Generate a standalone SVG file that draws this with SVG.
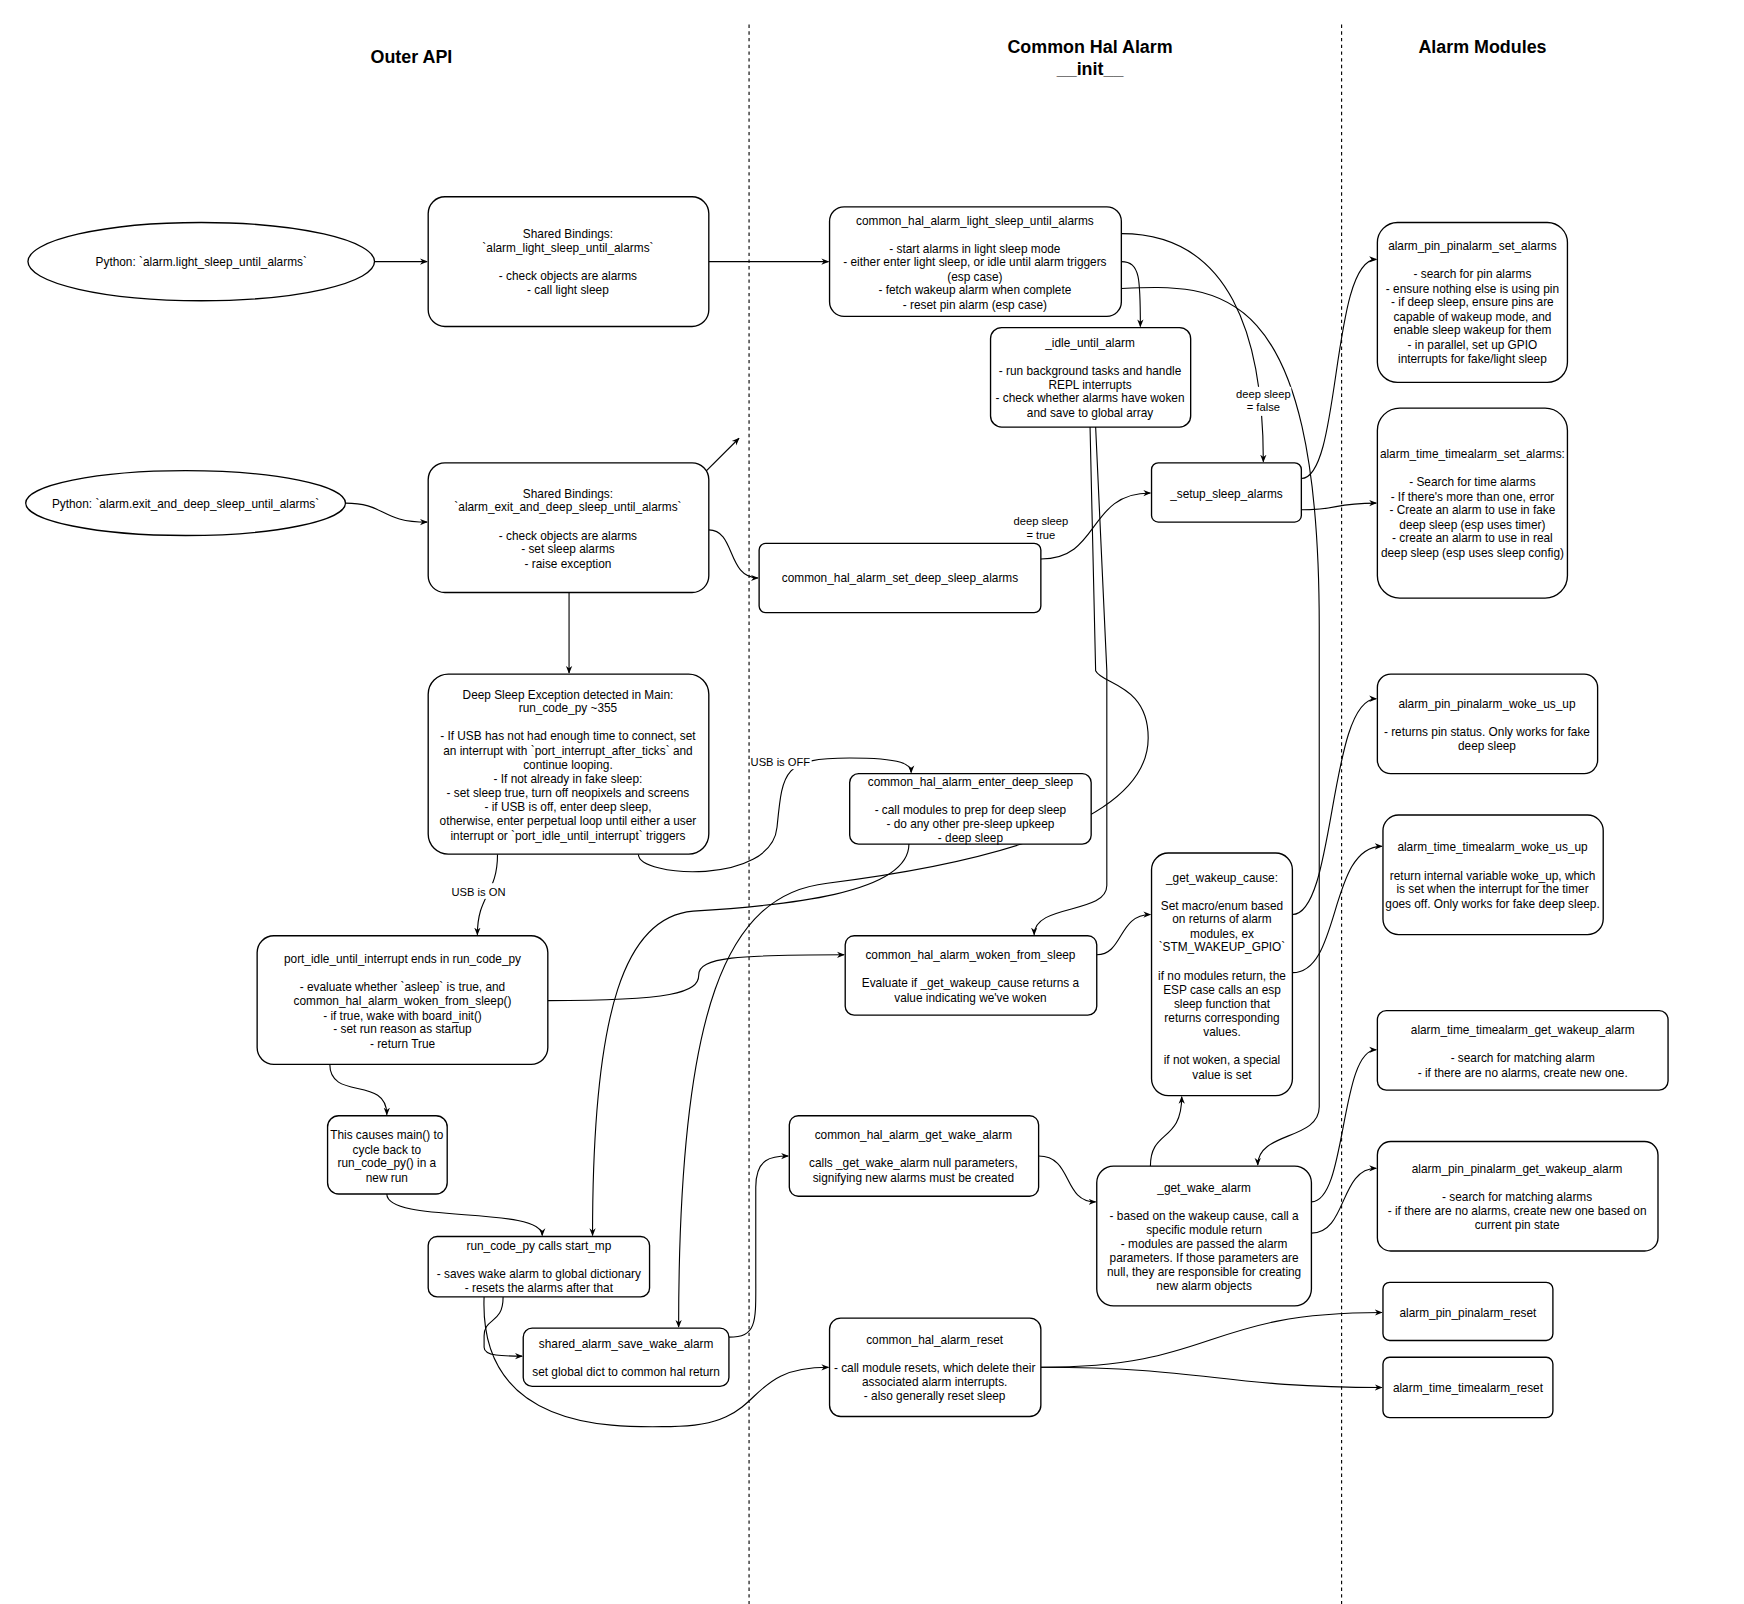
<svg xmlns="http://www.w3.org/2000/svg" width="1744" height="1604" viewBox="0 0 1744 1604">
<style>
.n{fill:#fff;stroke:#000;stroke-width:1.2}
text{font-family:"Liberation Sans",Arial,sans-serif;font-size:10.6px;text-anchor:middle;fill:#000}
.t{font-size:16px;font-weight:bold}
.c path,.c line{fill:none;stroke:#000;stroke-width:1;marker-end:url(#a)}
.d{stroke:#000;stroke-width:1;stroke-dasharray:3,3}
.lb{font-size:10px}
</style>
<defs><marker id="a" viewBox="0 0 10 10" refX="9" refY="5" markerWidth="7" markerHeight="7" orient="auto"><path d="M0,1 L10,5 L0,9 L3,5 Z" fill="#000"/></marker></defs>
<rect width="1744" height="1604" fill="#fff"/>
<g transform="scale(1.118)">
<line class="d" x1="670" y1="22" x2="670" y2="1440"/>
<line class="d" x1="1200" y1="22" x2="1200" y2="1440"/>
<text class="t" x="368" y="56">Outer API</text>
<text class="t" x="975" y="47">Common Hal Alarm</text>
<text class="t" x="975" y="67">__init__</text>
<text class="t" x="1326" y="47">Alarm Modules</text>

<g class="c">
<line x1="335" y1="234" x2="382" y2="234"/>
<line x1="634" y1="234" x2="741" y2="234"/>
<path d="M309,450 C345,450 340,467 382,467"/>
<line x1="617" y1="436" x2="661" y2="392"/>
<path d="M634,474 C658,474 650,517 678,517"/>
<line x1="509" y1="530" x2="509" y2="602"/>
<path d="M445,764 C445,800 427,800 427,836"/>
<path d="M571,764 C571,785 690,792 695,740 C700,690 700,678 760,678 C808,678 815,684 815,691"/>
<path d="M490,895 C600,895 625,888 625,872 C625,856 660,854 755,854"/>
<path d="M295,952 C295,985 346,962 346,997"/>
<path d="M346,1068 C346,1095 485,1078 485,1105"/>
<path d="M450,1160 C450,1185 433,1178 433,1195 L433,1205 C433,1213 450,1213 467,1213"/>
<path d="M433,1160 C428,1285 560,1276 600,1276 C690,1276 660,1223 741,1223"/>
<path d="M652,1196 C678,1196 676,1182 676,1140 L676,1062 C676,1036 690,1034 705,1034"/>
<path d="M929,1034 C960,1034 950,1075 980,1075"/>
<path d="M1029,1043 C1029,1010 1057,1022 1057,981"/>
<path d="M1173,1103 C1205,1103 1198,1045 1231,1045"/>
<path d="M1173,1075 C1205,1075 1198,939 1231,939"/>
<path d="M931,1223 C1090,1223 1075,1174 1236,1174"/>
<path d="M931,1223 C1080,1223 1092,1241 1236,1241"/>
<path d="M1003,234 C1020,234 1020,250 1020,292"/>
<path d="M1003,209 C1100,209 1130,300 1130,413"/>
<path d="M1003,258 C1090,254 1180,250 1180,560 L1180,990 C1180,1020 1125,1012 1125,1042"/>
<path d="M931,500 C985,500 972,441 1029,441"/>
<path d="M1164,428 C1200,428 1190,232 1231,232"/>
<path d="M1164,456 C1200,456 1190,450 1231,450"/>
<path d="M813,755 C813,800 700,810 620,815 C560,820 530,900 530,1105"/>
<path d="M975,382 L980,600 C985,612 1027,612 1027,660 C1027,750 820,780 740,790 C650,800 607,900 607,1187"/>
<path d="M980,382 L990,600 L990,792 C990,818 925,808 925,836"/>
<path d="M981,854 C1005,854 1000,818 1029,818"/>
<path d="M1156,818 C1195,818 1188,625 1231,625"/>
<path d="M1156,870 C1200,870 1188,757 1236,757"/>
<rect x="404" y="790" width="48" height="14" fill="#fff"/>
<text class="lb" x="428" y="801">USB is ON</text>
<rect x="672" y="675" width="54" height="13" fill="#fff"/>
<text class="lb" x="698" y="685">USB is OFF</text>
<rect x="1105" y="346" width="50" height="26" fill="#fff"/>
<text class="lb" x="1130" y="356">deep sleep</text>
<text class="lb" x="1130" y="368">= false</text>
<text class="lb" x="931" y="470">deep sleep</text>
<text class="lb" x="931" y="482">= true</text>
</g>

<g id="py-light"><ellipse class="n" cx="180" cy="234" rx="155" ry="35"/><text x="180" y="238">Python: `alarm.light_sleep_until_alarms`</text></g>
<g id="py-deep"><ellipse class="n" cx="166" cy="450" rx="143" ry="29"/><text x="166" y="454">Python: `alarm.exit_and_deep_sleep_until_alarms`</text></g>
<g id="sb-light"><rect class="n" x="383" y="176" width="251" height="116" rx="15"/>
<text x="508" y="213">Shared Bindings:</text><text x="508" y="225">`alarm_light_sleep_until_alarms`</text><text x="508" y="250">- check objects are alarms</text><text x="508" y="263">- call light sleep</text></g>
<g id="sb-deep"><rect class="n" x="383" y="414" width="251" height="116" rx="15"/>
<text x="508" y="445">Shared Bindings:</text><text x="508" y="457">`alarm_exit_and_deep_sleep_until_alarms`</text><text x="508" y="483">- check objects are alarms</text><text x="508" y="495">- set sleep alarms</text><text x="508" y="508">- raise exception</text></g>
<g id="deep-exc"><rect class="n" x="383" y="603" width="251" height="161" rx="18"/>
<text x="508" y="625">Deep Sleep Exception detected in Main:</text><text x="508" y="637">run_code_py ~355</text>
<text x="508" y="662">- If USB has not had enough time to connect, set</text><text x="508" y="675">an interrupt with `port_interrupt_after_ticks` and</text><text x="508" y="688">continue looping.</text><text x="508" y="700">- If not already in fake sleep:</text><text x="508" y="713">- set sleep true, turn off neopixels and screens</text><text x="508" y="725">- if USB is off, enter deep sleep,</text><text x="508" y="738">otherwise, enter perpetual loop until either a user</text><text x="508" y="751">interrupt or `port_idle_until_interrupt` triggers</text></g>
<g id="port-idle"><rect class="n" x="230" y="837" width="260" height="115" rx="15"/>
<text x="360" y="861">port_idle_until_interrupt ends in run_code_py</text><text x="360" y="886">- evaluate whether `asleep` is true, and</text><text x="360" y="899">common_hal_alarm_woken_from_sleep()</text><text x="360" y="912">- if true, wake with board_init()</text><text x="360" y="924">- set run reason as startup</text><text x="360" y="937">- return True</text></g>
<g id="cycle"><rect class="n" x="293" y="998" width="107" height="70" rx="10"/>
<text x="346" y="1019">This causes main() to</text><text x="346" y="1032">cycle back to</text><text x="346" y="1044">run_code_py() in a</text><text x="346" y="1057">new run</text></g>
<g id="start-mp"><rect class="n" x="383" y="1106" width="198" height="54" rx="8"/>
<text x="482" y="1118">run_code_py calls start_mp</text><text x="482" y="1143">- saves wake alarm to global dictionary</text><text x="482" y="1156">- resets the alarms after that</text></g>
<g id="save-wake"><rect class="n" x="468" y="1188" width="184" height="52" rx="8"/>
<text x="560" y="1206">shared_alarm_save_wake_alarm</text><text x="560" y="1231">set global dict to common hal return</text></g>
<g id="chal-light"><rect class="n" x="742" y="185" width="261" height="98" rx="13"/>
<text x="872" y="201">common_hal_alarm_light_sleep_until_alarms</text><text x="872" y="226">- start alarms in light sleep mode</text><text x="872" y="238">- either enter light sleep, or idle until alarm triggers</text><text x="872" y="251">(esp case)</text><text x="872" y="263">- fetch wakeup alarm when complete</text><text x="872" y="276">- reset pin alarm (esp case)</text></g>
<g id="idle"><rect class="n" x="886" y="293" width="179" height="89" rx="10"/>
<text x="975" y="310">_idle_until_alarm</text><text x="975" y="335">- run background tasks and handle</text><text x="975" y="348">REPL interrupts</text><text x="975" y="360">- check whether alarms have woken</text><text x="975" y="373">and save to global array</text></g>
<g id="setup"><rect class="n" x="1030" y="414" width="134" height="53" rx="6"/><text x="1097" y="445">_setup_sleep_alarms</text></g>
<g id="set-deep"><rect class="n" x="679" y="486" width="252" height="62" rx="6"/><text x="805" y="521">common_hal_alarm_set_deep_sleep_alarms</text></g>
<g id="enter-deep"><rect class="n" x="760" y="692" width="216" height="63" rx="8"/>
<text x="868" y="703">common_hal_alarm_enter_deep_sleep</text><text x="868" y="728">- call modules to prep for deep sleep</text><text x="868" y="741">- do any other pre-sleep upkeep</text><text x="868" y="753">- deep sleep</text></g>
<g id="woken"><rect class="n" x="756" y="837" width="225" height="71" rx="8"/>
<text x="868" y="858">common_hal_alarm_woken_from_sleep</text><text x="868" y="883">Evaluate if _get_wakeup_cause returns a</text><text x="868" y="896">value indicating we've woken</text></g>
<g id="wakeup-cause"><rect class="n" x="1030" y="763" width="126" height="217" rx="15"/>
<text x="1093" y="789">_get_wakeup_cause:</text><text x="1093" y="814">Set macro/enum based</text><text x="1093" y="826">on returns of alarm</text><text x="1093" y="839">modules, ex</text><text x="1093" y="851">`STM_WAKEUP_GPIO`</text><text x="1093" y="877">if no modules return, the</text><text x="1093" y="889">ESP case calls an esp</text><text x="1093" y="902">sleep function that</text><text x="1093" y="914">returns corresponding</text><text x="1093" y="927">values.</text><text x="1093" y="952">if not woken, a special</text><text x="1093" y="965">value is set</text></g>
<g id="get-wake"><rect class="n" x="706" y="998" width="223" height="72" rx="8"/>
<text x="817" y="1019">common_hal_alarm_get_wake_alarm</text><text x="817" y="1044">calls _get_wake_alarm null parameters,</text><text x="817" y="1057">signifying new alarms must be created</text></g>
<g id="_get-wake"><rect class="n" x="981" y="1043" width="192" height="125" rx="15"/>
<text x="1077" y="1066">_get_wake_alarm</text><text x="1077" y="1091">- based on the wakeup cause, call a</text><text x="1077" y="1104">specific module return</text><text x="1077" y="1116">- modules are passed the alarm</text><text x="1077" y="1129">parameters. If those parameters are</text><text x="1077" y="1141">null, they are responsible for creating</text><text x="1077" y="1154">new alarm objects</text></g>
<g id="reset"><rect class="n" x="742" y="1179" width="189" height="88" rx="10"/>
<text x="836" y="1202">common_hal_alarm_reset</text><text x="836" y="1227">- call module resets, which delete their</text><text x="836" y="1240">associated alarm interrupts.</text><text x="836" y="1252">- also generally reset sleep</text></g>
<g id="pin-set"><rect class="n" x="1232" y="199" width="170" height="143" rx="18"/>
<text x="1317" y="224">alarm_pin_pinalarm_set_alarms</text><text x="1317" y="249">- search for pin alarms</text><text x="1317" y="262">- ensure nothing else is using pin</text><text x="1317" y="274">- if deep sleep, ensure pins are</text><text x="1317" y="287">capable of wakeup mode, and</text><text x="1317" y="299">enable sleep wakeup for them</text><text x="1317" y="312">- in parallel, set up GPIO</text><text x="1317" y="325">interrupts for fake/light sleep</text></g>
<g id="time-set"><rect class="n" x="1232" y="365" width="170" height="170" rx="20"/>
<text x="1317" y="410">alarm_time_timealarm_set_alarms:</text><text x="1317" y="435">- Search for time alarms</text><text x="1317" y="448">- If there's more than one, error</text><text x="1317" y="460">- Create an alarm to use in fake</text><text x="1317" y="473">deep sleep (esp uses timer)</text><text x="1317" y="485">- create an alarm to use in real</text><text x="1317" y="498">deep sleep (esp uses sleep config)</text></g>
<g id="pin-woke"><rect class="n" x="1232" y="603" width="197" height="89" rx="12"/>
<text x="1330" y="633">alarm_pin_pinalarm_woke_us_up</text><text x="1330" y="658">- returns pin status. Only works for fake</text><text x="1330" y="671">deep sleep</text></g>
<g id="time-woke"><rect class="n" x="1237" y="729" width="197" height="107" rx="14"/>
<text x="1335" y="761">alarm_time_timealarm_woke_us_up</text><text x="1335" y="787">return internal variable woke_up, which</text><text x="1335" y="799">is set when the interrupt for the timer</text><text x="1335" y="812">goes off. Only works for fake deep sleep.</text></g>
<g id="time-getw"><rect class="n" x="1232" y="904" width="260" height="71" rx="8"/>
<text x="1362" y="925">alarm_time_timealarm_get_wakeup_alarm</text><text x="1362" y="950">- search for matching alarm</text><text x="1362" y="963">- if there are no alarms, create new one.</text></g>
<g id="pin-getw"><rect class="n" x="1232" y="1021" width="251" height="98" rx="12"/>
<text x="1357" y="1049">alarm_pin_pinalarm_get_wakeup_alarm</text><text x="1357" y="1074">- search for matching alarms</text><text x="1357" y="1087">- if there are no alarms, create new one based on</text><text x="1357" y="1099">current pin state</text></g>
<g id="pin-reset"><rect class="n" x="1237" y="1147" width="152" height="52" rx="6"/><text x="1313" y="1178">alarm_pin_pinalarm_reset</text></g>
<g id="time-reset"><rect class="n" x="1237" y="1214" width="152" height="54" rx="6"/><text x="1313" y="1245">alarm_time_timealarm_reset</text></g>
</g>
</svg>
